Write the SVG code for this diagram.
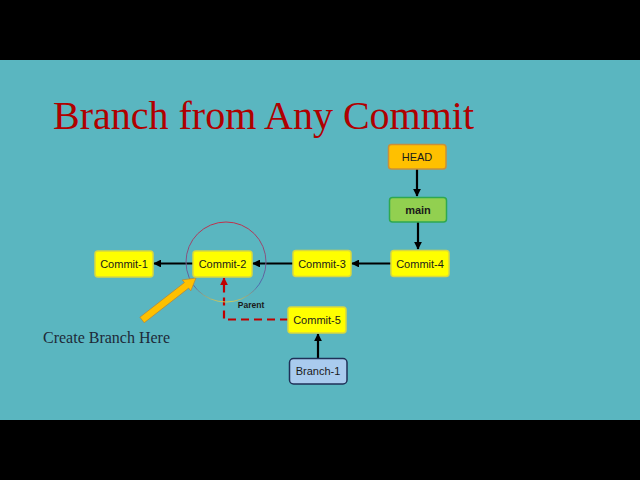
<svg xmlns="http://www.w3.org/2000/svg" width="640" height="480" viewBox="0 0 640 480">
<style>
.box{stroke-width:1.5}
.commit{fill:#FFFF00;stroke:#D8D840}
.lbl{font-family:"Liberation Sans",Arial,sans-serif;font-size:11px;fill:#1a1a1a;text-anchor:middle}
.conn{stroke:#000;stroke-width:2.2;fill:none;marker-end:url(#ah)}
</style>
<defs>
<marker id="ah" viewBox="0 0 10 10" refX="9" refY="5" markerWidth="3.6" markerHeight="3.6" orient="auto" markerUnits="strokeWidth">
<path d="M0,0 L10,5 L0,10 z" fill="#000"/>
</marker>
<marker id="ahr" viewBox="0 0 10 10" refX="9" refY="5" markerWidth="3.5" markerHeight="3.5" orient="auto" markerUnits="strokeWidth">
<path d="M0,0 L10,5 L0,10 z" fill="#C00000"/>
</marker>
<linearGradient id="cg" x1="0" y1="0" x2="0" y2="1">
<stop offset="0" stop-color="#C0304A"/>
<stop offset="0.5" stop-color="#7A5A8A"/>
<stop offset="0.8" stop-color="#4A6AB0"/>
<stop offset="1" stop-color="#C8C860"/>
</linearGradient>
</defs>
<rect x="0" y="0" width="640" height="480" fill="#000"/>
<rect x="0" y="60" width="640" height="360" fill="#5AB6C0"/>
<text x="53" y="129" font-family="Liberation Serif,'Times New Roman',serif" font-size="40" fill="#B00000">Branch from Any Commit</text>
<text x="43" y="343" font-family="Liberation Serif,'Times New Roman',serif" font-size="16" fill="#1E2A38">Create Branch Here</text>

<g id="connectors">
<line class="conn" x1="391" y1="263.5" x2="352" y2="263.5"/>
<line class="conn" x1="293" y1="263.5" x2="253" y2="263.5"/>
<line class="conn" x1="193" y1="263.5" x2="154" y2="263.5"/>
<line class="conn" x1="417" y1="169" x2="417" y2="196"/>
<line class="conn" x1="418" y1="222" x2="418" y2="249"/>
<line class="conn" x1="318" y1="358" x2="318" y2="334"/>
<polyline points="288,319.5 224,319.5 224,278" fill="none" stroke="#C00000" stroke-width="2.2" stroke-dasharray="8,5" marker-end="url(#ahr)"/>
<text x="251" y="308" font-family="Liberation Sans,Arial,sans-serif" font-size="8.5" font-weight="bold" fill="#1a1a1a" text-anchor="middle">Parent</text>
</g>

<g id="highlight">
<circle cx="226" cy="262" r="40" fill="none" stroke="url(#cg)" stroke-width="1"/>
</g>
<g id="pointer">
<polygon points="139.9,317.2 184.4,282.6 182.2,279.9 196,278 190.8,290.9 188.7,288.1 144.2,322.8" fill="#FFC000" stroke="#B08A40" stroke-width="0.8"/>
</g>

<g id="commit1"><rect class="box commit" x="95" y="251" width="58" height="26" rx="3"/><text class="lbl" x="124" y="268">Commit-1</text></g>
<g id="commit2"><rect class="box commit" x="193" y="251" width="59" height="26" rx="3"/><text class="lbl" x="222.5" y="268">Commit-2</text></g>
<g id="commit3"><rect class="box commit" x="293" y="250.5" width="58" height="26" rx="3"/><text class="lbl" x="322" y="267.5">Commit-3</text></g>
<g id="commit4"><rect class="box commit" x="391" y="250.5" width="58" height="26" rx="3"/><text class="lbl" x="420" y="267.5">Commit-4</text></g>
<g id="commit5"><rect class="box commit" x="288" y="307" width="58" height="26" rx="3"/><text class="lbl" x="317" y="324">Commit-5</text></g>
<g id="head"><rect class="box" x="388.5" y="144.5" width="57.5" height="24.5" rx="3" fill="#FFC000" stroke="#C8903A"/><text class="lbl" x="417" y="160.5">HEAD</text></g>
<g id="main"><rect class="box" x="389.5" y="197.5" width="57" height="24.5" rx="3" fill="#92D050" stroke="#2EA850"/><text class="lbl" x="418" y="213.5" font-weight="bold">main</text></g>
<g id="branch1"><rect class="box" x="289.5" y="358.5" width="57.5" height="25.5" rx="4" fill="#A9CBEE" stroke="#1F3057"/><text class="lbl" x="318" y="375">Branch-1</text></g>
</svg>
